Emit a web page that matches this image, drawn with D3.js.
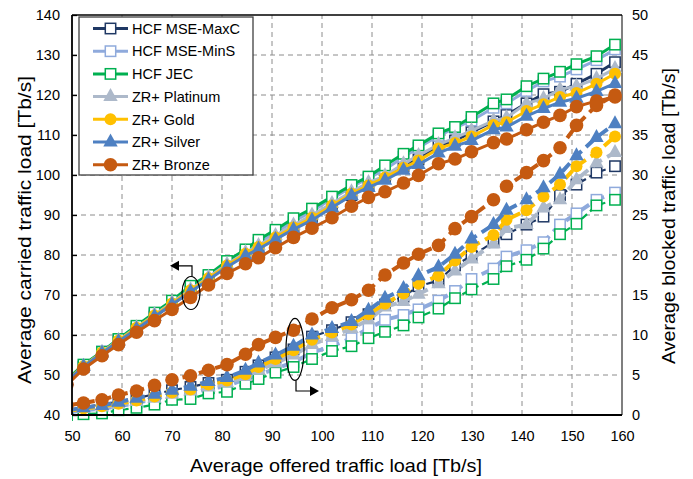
<!DOCTYPE html>
<html>
<head>
<meta charset="utf-8">
<script src="https://cdn.jsdelivr.net/npm/d3@7"></script>
<style>
  body { margin: 0; background: #fff; }
  text { font-family: "Liberation Sans", Arial, sans-serif; fill: #000; }
</style>
</head>
<body>
<div id="chart"></div>
<script>
/* data (first point sits just left of the axis and is cut off) */
const offered = [49.0, 52.3, 56.0, 59.3, 62.9, 66.5, 70.0, 73.7, 77.3, 81.0, 84.7, 87.3, 90.7, 94.3, 98.0, 102.0,
  105.9, 109.3, 112.6, 116.3, 119.3, 123.3, 126.6, 129.9, 134.3, 136.9, 140.9, 144.3, 147.6, 150.9, 154.9, 158.6];

const seriesNames = ["HCF MSE-MaxC", "HCF MSE-MinS", "HCF JEC", "ZR+ Platinum", "ZR+ Gold", "ZR+ Silver", "ZR+ Bronze"];

// carried traffic (left axis)
const carriedMaxC = [48.5, 52.0, 55.4, 58.3, 61.5, 64.6, 67.6, 70.9, 74.0, 77.3, 80.0, 81.8, 84.2, 86.8, 88.9, 92.1,
  95.0, 97.4, 99.5, 102.2, 103.9, 107.3, 108.6, 110.7, 113.4, 115.0, 117.9, 120.2, 120.8, 122.8, 125.3, 128.2];
const carriedMinS = [48.8, 52.4, 55.9, 58.9, 62.1, 65.2, 68.2, 71.7, 74.7, 78.1, 80.9, 83.0, 85.6, 88.4, 90.9, 94.1,
  97.0, 99.2, 101.4, 104.5, 106.8, 109.8, 111.8, 113.6, 116.8, 117.9, 121.0, 123.4, 124.6, 126.4, 128.7, 131.4];
const carriedJEC = [48.9, 52.6, 55.8, 59.0, 62.3, 65.6, 68.6, 72.3, 75.0, 78.5, 81.4, 83.8, 86.3, 89.2, 91.6, 94.6,
  97.5, 99.6, 102.4, 105.3, 107.4, 110.4, 112.0, 114.5, 117.9, 118.9, 122.2, 124.1, 125.8, 127.7, 129.7, 132.6];
const carriedPlatinum = [48.6, 52.2, 55.7, 58.7, 61.9, 65.1, 68.1, 71.4, 74.5, 77.7, 80.6, 82.4, 84.9, 87.5, 90.0, 92.9,
  95.8, 98.1, 99.8, 102.8, 104.9, 107.6, 109.3, 111.1, 113.6, 114.3, 117.9, 119.1, 121.4, 122.2, 124.1, 126.6];
const carriedGold = [48.6, 52.2, 55.6, 58.6, 61.8, 64.9, 67.9, 71.2, 74.2, 77.4, 80.3, 82.0, 84.4, 86.9, 89.3, 92.4,
  95.3, 97.4, 99.4, 101.8, 103.6, 106.6, 108.0, 109.6, 112.5, 113.2, 116.0, 117.7, 119.5, 120.5, 122.8, 125.3];
const carriedSilver = [48.5, 52.1, 55.5, 58.4, 61.5, 64.6, 67.6, 70.8, 73.8, 77.0, 79.8, 81.5, 83.9, 86.4, 88.7, 91.9,
  94.9, 96.9, 98.7, 101.2, 102.6, 105.5, 107.2, 108.6, 111.3, 112.0, 114.7, 116.6, 118.2, 119.2, 120.9, 122.9];
const carriedBronze = [47.6, 51.5, 54.8, 57.6, 60.7, 63.6, 66.4, 69.4, 72.5, 75.4, 77.8, 79.3, 81.8, 84.4, 86.7, 89.3,
  92.2, 94.4, 95.8, 98.0, 99.9, 102.8, 104.0, 105.8, 108.1, 109.0, 111.3, 113.2, 114.9, 117.1, 118.5, 119.5];

// blocked traffic (right axis)
const blockedMaxC = [0.6, 1.0, 1.3, 1.7, 2.1, 2.6, 3.1, 3.5, 4.0, 4.4, 5.4, 6.2, 7.2, 8.2, 9.8, 10.6,
  11.6, 12.6, 13.8, 14.8, 16.1, 16.8, 18.7, 19.9, 21.6, 22.6, 23.8, 24.8, 27.5, 28.8, 30.3, 31.1];
const blockedMinS = [0.3, 0.6, 0.8, 1.1, 1.5, 2.0, 2.5, 2.7, 3.3, 3.6, 4.5, 5.0, 5.8, 6.6, 7.8, 8.6,
  9.6, 10.8, 11.9, 12.5, 13.2, 14.3, 15.5, 17.0, 18.3, 19.8, 20.6, 21.6, 23.8, 25.2, 26.9, 27.8];
const blockedJEC = [0.0, 0.1, 0.2, 0.6, 0.9, 1.3, 1.9, 2.0, 2.7, 2.9, 3.9, 4.5, 5.3, 6.0, 7.0, 8.0,
  8.6, 9.6, 10.4, 11.2, 12.2, 13.3, 14.6, 15.7, 17.0, 18.6, 19.4, 20.8, 22.6, 23.9, 26.2, 26.9];
const blockedPlatinum = [0.5, 0.8, 1.0, 1.3, 1.7, 2.1, 2.6, 3.0, 3.5, 4.0, 4.8, 5.6, 6.5, 7.5, 8.8, 9.8,
  10.8, 11.9, 13.5, 14.2, 15.1, 16.4, 18.0, 19.5, 21.4, 23.3, 23.8, 25.9, 26.9, 29.4, 31.5, 32.8];
const blockedGold = [0.5, 0.8, 1.1, 1.4, 1.8, 2.3, 2.8, 3.2, 3.8, 4.3, 5.1, 6.0, 7.0, 8.1, 9.4, 10.3,
  11.3, 12.6, 13.9, 15.2, 16.4, 17.4, 19.3, 21.0, 22.5, 24.4, 25.6, 27.3, 28.8, 31.1, 32.8, 34.8];
const blockedSilver = [0.6, 0.9, 1.2, 1.6, 2.1, 2.6, 3.1, 3.6, 4.2, 4.7, 5.6, 6.5, 7.5, 8.6, 10.0, 10.8,
  11.7, 13.1, 14.6, 15.8, 17.4, 18.5, 20.1, 22.0, 23.8, 25.6, 26.9, 28.4, 30.1, 32.4, 34.7, 36.4];
const blockedBronze = [1.2, 1.5, 1.9, 2.5, 3.0, 3.7, 4.4, 4.9, 5.6, 6.3, 7.6, 8.8, 9.7, 10.6, 12.0, 13.4,
  14.4, 15.6, 17.5, 19.0, 20.1, 21.2, 23.3, 24.8, 26.9, 28.6, 30.3, 31.8, 33.4, 36.2, 38.7, 40.0];

const xTicks = [50, 60, 70, 80, 90, 100, 110, 120, 130, 140, 150, 160];
const leftTicks = [40, 50, 60, 70, 80, 90, 100, 110, 120, 130, 140];
const rightTicks = [0, 5, 10, 15, 20, 25, 30, 35, 40, 45, 50];

/* styles per series */
const styles = [
  { color: "#1f3864", marker: "square", lw: 3, dlw: 2.2 },
  { color: "#8faadc", marker: "square", lw: 3, dlw: 4 },
  { color: "#00b050", marker: "square", lw: 3, dlw: 2.2 },
  { color: "#adb9ca", marker: "triangle", lw: 3, dlw: 4 },
  { color: "#ffc000", marker: "circle", lw: 3, dlw: 4 },
  { color: "#4e80c2", marker: "triangle", lw: 3, dlw: 4 },
  { color: "#c55a11", marker: "circle", lw: 3, dlw: 4 }
];
const carried = [carriedMaxC, carriedMinS, carriedJEC, carriedPlatinum, carriedGold, carriedSilver, carriedBronze];
const blocked = [blockedMaxC, blockedMinS, blockedJEC, blockedPlatinum, blockedGold, blockedSilver, blockedBronze];

const width = 693, height = 479;
const margin = { top: 15, bottom: 64, left: 72, right: 71 };

const svg = d3.select("#chart").append("svg")
  .attr("width", width).attr("height", height);

const x = d3.scaleLinear().domain([50, 160]).range([margin.left, width - margin.right]);
const yL = d3.scaleLinear().domain([40, 140]).range([height - margin.bottom, margin.top]);
const yR = d3.scaleLinear().domain([0, 50]).range([height - margin.bottom, margin.top]);

// grid
const grid = svg.append("g").attr("stroke", "#8c8c8c").attr("stroke-width", 1).attr("stroke-dasharray", "5,4");
grid.selectAll("line.v").data(xTicks.slice(1, -1)).join("line")
  .attr("class", "v")
  .attr("x1", d => x(d)).attr("x2", d => x(d))
  .attr("y1", yL(40)).attr("y2", yL(140));
grid.selectAll("line.h").data(leftTicks.slice(1, -1)).join("line")
  .attr("class", "h")
  .attr("x1", x(50)).attr("x2", x(160))
  .attr("y1", d => yL(d)).attr("y2", d => yL(d));

// axes
const xAxis = svg.append("g").attr("transform", `translate(0,${yL(40)})`)
  .call(d3.axisBottom(x).tickValues(xTicks).tickSize(0).tickPadding(16));
const lAxis = svg.append("g").attr("transform", `translate(${x(50)},0)`)
  .call(d3.axisLeft(yL).tickValues(leftTicks).tickSizeInner(-5).tickSizeOuter(0).tickPadding(12));
const rAxis = svg.append("g").attr("transform", `translate(${x(160)},0)`)
  .call(d3.axisRight(yR).tickValues(rightTicks).tickSizeInner(0).tickSizeOuter(0).tickPadding(10));

[xAxis, lAxis, rAxis].forEach(g => {
  g.selectAll("text").attr("font-size", 14.5).attr("font-family", "Liberation Sans, Arial, sans-serif");
  g.select(".domain").remove();
});
lAxis.selectAll("line").attr("stroke", "#000").attr("stroke-width", 1.3);

// frame
svg.append("line").attr("x1", x(160)).attr("x2", x(160)).attr("y1", yL(140)).attr("y2", yL(40))
  .attr("stroke", "#7f7f7f").attr("stroke-width", 2);
svg.append("line").attr("x1", x(50)).attr("x2", x(160)).attr("y1", yL(140)).attr("y2", yL(140))
  .attr("stroke", "#000").attr("stroke-width", 1.5);

// axis titles
svg.append("text").attr("x", 336).attr("y", 472)
  .attr("text-anchor", "middle").attr("font-size", 18.5)
  .attr("textLength", 292).attr("lengthAdjust", "spacingAndGlyphs")
  .text("Average offered traffic load [Tb/s]");
svg.append("text").attr("transform", "translate(31,230) rotate(-90)")
  .attr("text-anchor", "middle").attr("font-size", 18.5)
  .attr("textLength", 308).attr("lengthAdjust", "spacingAndGlyphs")
  .text("Average carried traffic load [Tb/s]");
svg.append("text").attr("transform", "translate(675,216) rotate(-90)")
  .attr("text-anchor", "middle").attr("font-size", 18.5)
  .attr("textLength", 296).attr("lengthAdjust", "spacingAndGlyphs")
  .text("Average blocked traffic load [Tb/s]");

// markers
function drawMarker(g, kind, color) {
  if (kind === "square") {
    g.append("rect").attr("x", -5.2).attr("y", -5.2).attr("width", 10.4).attr("height", 10.4)
      .attr("fill", "#fff").attr("stroke", color).attr("stroke-width", 1.5);
  } else if (kind === "circle") {
    g.append("circle").attr("r", color === "#c55a11" ? 6.8 : 6).attr("fill", color);
  } else {
    g.append("path").attr("d", "M0,-8.5L7.2,4.5L-7.2,4.5Z").attr("fill", color);
  }
}

svg.append("clipPath").attr("id", "clip")
  .append("rect").attr("x", x(50)).attr("y", 0).attr("width", width - x(50)).attr("height", height);
const plot = svg.append("g").attr("clip-path", "url(#clip)");

styles.forEach((s, i) => {
  const up = offered.map((o, j) => [o, carried[i][j]]);
  const lo = offered.map((o, j) => [o, blocked[i][j]]);
  const g = plot.append("g");
  g.append("path")
    .attr("d", d3.line().x(d => x(d[0])).y(d => yL(d[1]))(up))
    .attr("fill", "none").attr("stroke", s.color).attr("stroke-width", s.lw);
  g.append("path")
    .attr("d", d3.line().x(d => x(d[0])).y(d => yR(d[1]))(lo))
    .attr("fill", "none").attr("stroke", s.color).attr("stroke-width", s.dlw)
    .attr("stroke-dasharray", s.dlw > 3 ? "11,6" : "7,4");
  up.forEach(d => drawMarker(g.append("g").attr("transform", `translate(${x(d[0])},${yL(d[1])})`), s.marker, s.color));
  lo.forEach(d => drawMarker(g.append("g").attr("transform", `translate(${x(d[0])},${yR(d[1])})`), s.marker, s.color));
});

// left and bottom axis lines on top of the marks
svg.append("line").attr("x1", x(50)).attr("x2", x(50)).attr("y1", yL(140)).attr("y2", yL(40))
  .attr("stroke", "#000").attr("stroke-width", 1.8);
svg.append("line").attr("x1", x(50)).attr("x2", x(160)).attr("y1", yL(40)).attr("y2", yL(40))
  .attr("stroke", "#000").attr("stroke-width", 2);

// annotations: ellipses with arrows
const ann = svg.append("g").attr("fill", "none").attr("stroke", "#000").attr("stroke-width", 1.2);
ann.append("ellipse").attr("cx", x(73.8)).attr("cy", yL(70.5)).attr("rx", 9).attr("ry", 16.5);
ann.append("polyline").attr("points", `${x(74)},${yL(74.6)} ${x(74)},${yL(77.3)} ${x(71.4)},${yL(77.3)}`);
svg.append("path").attr("d", `M${x(69.6)},${yL(77.3)}l9,-5v10z`).attr("fill", "#000");

ann.append("ellipse").attr("cx", x(94.6)).attr("cy", yR(8.2)).attr("rx", 9).attr("ry", 31);
ann.append("polyline").attr("points", `${x(94.8)},${yR(4.3)} ${x(94.8)},${yR(3)} ${x(98)},${yR(3)}`);
svg.append("path").attr("d", `M${x(99.4)},${yR(3)}l-9,-5v10z`).attr("fill", "#000");

// legend
const lg = svg.append("g").attr("transform", "translate(79,17)");
lg.append("rect").attr("width", 174).attr("height", 158).attr("fill", "#fff")
  .attr("stroke", "#404040").attr("stroke-width", 1.3);
seriesNames.forEach((name, i) => {
  const row = lg.append("g").attr("transform", `translate(0,${11.5 + i * 22.7})`);
  row.append("line").attr("x1", 14).attr("x2", 49).attr("stroke", styles[i].color).attr("stroke-width", 3);
  drawMarker(row.append("g").attr("transform", "translate(31.5,0)"), styles[i].marker, styles[i].color);
  row.append("text").attr("x", 53).attr("y", 5.2).attr("font-size", 14.5).text(name);
});
</script>
</body>
</html>
